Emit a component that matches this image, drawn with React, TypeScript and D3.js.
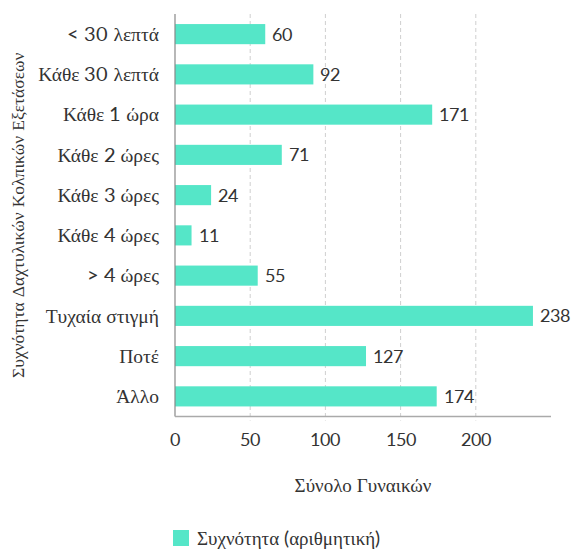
import React from "react";
import * as d3 from "d3";

const categories = [
  "< 30 λεπτά",
  "Κάθε 30 λεπτά",
  "Κάθε 1 ώρα",
  "Κάθε 2 ώρες",
  "Κάθε 3 ώρες",
  "Κάθε 4 ώρες",
  "> 4 ώρες",
  "Τυχαία στιγμή",
  "Ποτέ",
  "Άλλο",
];
const counts = [60, 92, 171, 71, 24, 11, 55, 238, 127, 174];
const xTicks = [0, 50, 100, 150, 200];
const xTitle = "Σύνολο Γυναικών";
const yTitle = "Συχνότητα Δαχτυλικών Κολπικών Εξετάσεων";
const legendLabel = "Συχνότητα (αριθμητική)";

const W = 573;
const H = 554;
const left = 175;
const right = 551;
const top = 14;
const bottom = 416.5;
const barColor = "#55e6c8";
const textColor = "#333";
const font = "LatoDigits, 'Liberation Serif', serif";

export default function App() {
  const x = d3.scaleLinear().domain([0, 250]).range([left, right]);
  const y = d3
    .scaleBand<string>()
    .domain(categories)
    .range([top, bottom])
    .paddingInner(0.5)
    .paddingOuter(0.25);

  return (
    <svg
      width={W}
      height={H}
      style={{ position: "absolute", left: 0, top: 0, background: "#fff" }}
      fontFamily={font}
    >
      <style>{`@font-face { font-family: "LatoDigits"; src: local("Lato Regular"), local("Lato-Regular"), local("Lato"); unicode-range: U+0020-007F; }`}</style>
      {/* vertical dashed gridlines */}
      {xTicks
        .filter((t) => t > 0)
        .map((t) => (
          <line
            key={t}
            x1={x(t)}
            x2={x(t)}
            y1={top}
            y2={bottom + 4}
            stroke="#cfcfcf"
            strokeDasharray="4,3"
            strokeWidth={1}
          />
        ))}
      {/* bars */}
      {categories.map((c, i) => (
        <rect
          key={c}
          x={x(0)}
          y={y(c)}
          width={x(counts[i]) - x(0)}
          height={y.bandwidth()}
          fill={barColor}
        />
      ))}
      {/* value labels */}
      {categories.map((c, i) => (
        <text
          key={c}
          x={x(counts[i]) + 7}
          y={(y(c) as number) + y.bandwidth() / 2}
          dy="0.36em"
          fontSize={18}
          fill={textColor}
        >
          {counts[i]}
        </text>
      ))}
      {/* axes */}
      <line x1={left} x2={left} y1={top} y2={bottom} stroke="#888" strokeWidth={1.2} />
      <line x1={left} x2={right} y1={bottom} y2={bottom} stroke="#aaa" strokeWidth={1.5} />
      {/* category labels */}
      {categories.map((c) => (
        <text
          key={c}
          x={left - 16}
          y={(y(c) as number) + y.bandwidth() / 2}
          dy="0.35em"
          textAnchor="end"
          fontSize={19.5}
          fill={textColor}
        >
          {c}
        </text>
      ))}
      {/* x tick labels */}
      {xTicks.map((t) => (
        <text
          key={t}
          x={x(t)}
          y={446}
          textAnchor="middle"
          fontSize={18}
          fill={textColor}
        >
          {t}
        </text>
      ))}
      <text
        x={(left + right) / 2}
        y={492}
        textAnchor="middle"
        fontSize={19}
        fill={textColor}
      >
        {xTitle}
      </text>
      <text
        transform={`translate(24,${(top + bottom) / 2}) rotate(-90)`}
        textAnchor="middle"
        fontSize={17.5}
        fill={textColor}
      >
        {yTitle}
      </text>
      {/* legend */}
      <rect x={173} y={530} width={16} height={16} fill={barColor} />
      <text x={197} y={545} fontSize={19} fill={textColor}>
        {legendLabel}
      </text>
    </svg>
  );
}
